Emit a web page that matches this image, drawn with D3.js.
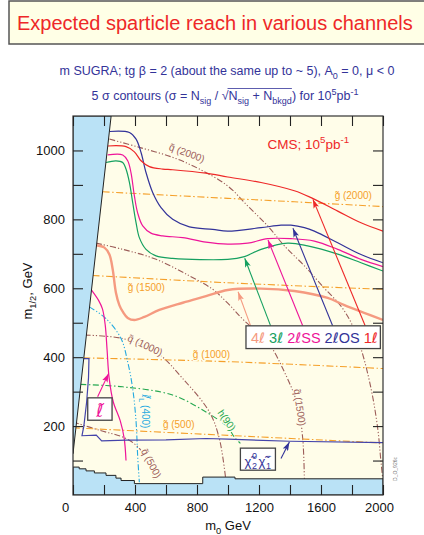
<!DOCTYPE html>
<html>
<head>
<meta charset="utf-8">
<script src="https://cdn.jsdelivr.net/npm/d3@7"></script>
<style>
  body { margin: 0; background: #fff; }
  svg text { font-family: "Liberation Sans", Arial, sans-serif; }
  .ell { font-family: "DejaVu Sans", sans-serif; font-style: italic; }
</style>
</head>
<body>
<script>
((() => {

// ---- data: points are [m0, m1/2] in GeV ----

const xTickLabels = [0, 400, 800, 1200, 1600, 2000];
const yTickLabels = [200, 400, 600, 800, 1000];

// 5 sigma reach contours
const oneLepton = [[224,1013],[342,1011],[396,996],[439,970],[493,953],[579,946],[643,944],[858,934],[998,923],[1213,907],[1428,883],[1536,863],[1708,824],[1858,790],[2000,766]];
const twoLepOS  = [[235,1055],[364,1052],[407,1033],[439,994],[471,936],[514,878],[568,834],[643,800],[751,778],[901,771],[998,766],[1213,776],[1342,783],[1406,783],[1493,776],[1557,766],[1708,732],[1858,698],[2000,674]];
const twoLepSS  = [[224,987],[321,987],[353,970],[374,936],[396,868],[417,819],[450,781],[503,760],[579,752],[708,747],[858,734],[998,728],[1127,731],[1256,744],[1406,744],[1557,737],[1708,713],[1858,684],[2000,663]];
const threeLep  = [[213,965],[277,970],[321,965],[342,946],[364,907],[385,849],[407,790],[428,747],[471,713],[536,694],[643,687],[998,684],[1106,692],[1213,713],[1385,731],[1514,723],[1708,699],[1858,674],[2000,650]];
const fourLep   = [[148,725],[203,718],[235,698],[256,655],[277,587],[299,551],[321,532],[353,514],[396,508],[461,517],[557,537],[708,558],[858,577],[998,595],[1213,599],[1428,592],[1643,572],[1751,551],[2000,508]];
const sleptonReach  = [[116,597],[165,565],[190,540],[208,493],[220,420],[233,340],[260,270],[305,215],[330,165],[342,100]];
const charginoReach = [[52,396],[103,396],[100,340],[88,270],[70,200],[58,172],[150,174],[185,157],[344,159],[600,160],[858,164],[1000,162],[1400,156],[2000,152]];

// iso-mass lines
const squark2000 = [[235,1033],[428,1009],[643,980],[815,946],[998,897],[1127,839],[1256,781],[1364,723],[1493,665],[1622,600],[1729,548],[1800,495],[1858,425],[1923,309],[1966,193],[1987,96],[2000,40]];
const squark1500 = [[148,731],[321,713],[536,684],[751,636],[901,597],[1000,556],[1100,508],[1256,444],[1364,357],[1450,260],[1482,164],[1493,40]];
const squark1000 = [[76,464],[321,454],[536,415],[708,338],[880,241],[944,164],[987,40]];
const squark500  = [[0,212],[170,188],[342,164],[428,135],[493,86],[525,40]];
const gluino2000 = [[192,880],[998,861],[1428,851],[2000,837]];
const gluino1500 = [[127,637],[998,616],[2000,597]];
const gluino1000 = [[68,398],[1000,387],[2000,367]];
const gluino500  = [[0,195],[1000,173],[2000,151]];
const higgs90    = [[48,321],[321,314],[643,290],[858,241],[998,197],[1041,168],[1080,150]];
const sleptonL400 = [[106,546],[213,512],[310,454],[353,386],[385,309],[407,212],[417,115],[428,37]];

// excluded regions
const theoryExcluded = [[0,120],[246,1100],[0,1100]];
const lepExcluded = [[0,81],[40,81],[40,76],[84,76],[84,70],[138,70],[138,64],[213,64],[213,57],[277,57],[277,49],[310,49],[310,42],[396,42],[396,33],[837,33],[837,52],[1045,52],[1045,47],[2000,47],[2000,0],[0,0]];

// ---- colours ----
const red = '#ee2828', navy = '#333399', magenta = '#ee1599', green = '#15a060',
      salmon = '#f59a80', brown = '#9c5c58', orange = '#f5a02a', cyan = '#25aae0',
      hgreen = '#25a850', cream = '#fffde9', skyblue = '#bae2f6';

let width = 424, height = 535;
let margin = {top: 116, right: 41, bottom: 40, left: 73};

let svg = d3.select('body').append('svg')
  .attr('width', width)
  .attr('height', height);

let xScale = d3.scaleLinear().domain([0, 2000]).range([margin.left, width - margin.right]);
let yScale = d3.scaleLinear().domain([0, 1100]).range([height - margin.bottom, margin.top]);

// text with sub / superscripts; parts are [text, 'sub'|'sup'|null, overline?]
function rich(sel, parts, size) {
  let shift = 0;
  parts.forEach(([t, k, ov]) => {
    let target = k === 'sub' ? size * 0.3 : k === 'sup' ? -size * 0.42 : 0;
    let ts = sel.append('tspan').attr('dy', target - shift).text(t);
    if (k) ts.style('font-size', (size * 0.72) + 'px');
    if (ov) ts.classed('ov', true);
    shift = target;
  });
  return sel;
}

// title box
svg.append('rect')
  .attr('x', 9).attr('y', 1).attr('width', 440).attr('height', 43)
  .attr('fill', '#ffffe6').attr('stroke', '#555').attr('stroke-width', 1.5);
svg.append('text')
  .attr('x', 17).attr('y', 30)
  .attr('fill', red).style('font-size', '20px')
  .text('Expected sparticle reach in various channels');

// subtitle lines
rich(svg.append('text').attr('x', 227).attr('y', 75).attr('text-anchor', 'middle')
    .attr('fill', navy).style('font-size', '12.5px'),
  [['m SUGRA; tg β = 2 (about the same up to ~ 5), A'], ['0', 'sub'], [' = 0, μ < 0']], 12.5);

let sub2 = rich(svg.append('text').attr('x', 225).attr('y', 100).attr('text-anchor', 'middle')
    .attr('fill', navy).style('font-size', '12.5px'),
  [['5 σ contours (σ = N'], ['sig', 'sub'], [' / √'], ['N', null, true], ['sig', 'sub', true],
   [' + N', null, true], ['bkgd', 'sub', true], [')'], [' for 10'], ['5', 'sup'], ['pb'], ['-1', 'sup']], 12.5);

// overline for the square root
let ov = sub2.selectAll('tspan.ov').nodes();
if (ov.length) {
  let x0 = ov[0].getStartPositionOfChar(0).x - 1;
  let last = ov[ov.length - 1];
  let x1 = last.getEndPositionOfChar(last.getNumberOfChars() - 1).x;
  svg.append('line').attr('x1', x0).attr('x2', x1).attr('y1', 88.5).attr('y2', 88.5)
    .attr('stroke', navy).attr('stroke-width', 0.8);
}

// ---- plot area ----
svg.append('clipPath').attr('id', 'plot-clip')
  .append('rect')
    .attr('x', xScale(0)).attr('y', yScale(1100))
    .attr('width', xScale(2000) - xScale(0)).attr('height', yScale(0) - yScale(1100));

let plot = svg.append('g').attr('clip-path', 'url(#plot-clip)');

plot.append('rect')
  .attr('x', xScale(0)).attr('y', yScale(1100))
  .attr('width', xScale(2000) - xScale(0)).attr('height', yScale(0) - yScale(1100))
  .attr('fill', cream);

let smooth = d3.line()
  .x(d => xScale(d[0]))
  .y(d => yScale(d[1]))
  .curve(d3.curveCatmullRom.alpha(0.5));

let straight = d3.line()
  .x(d => xScale(d[0]))
  .y(d => yScale(d[1]));

// iso-mass lines
let isoLines = [
  {data: squark2000, color: brown, dash: '6,2,1.2,2,1.2,2'},
  {data: squark1500, color: brown, dash: '6,2,1.2,2,1.2,2'},
  {data: squark1000, color: brown, dash: '6,2,1.2,2,1.2,2'},
  {data: squark500,  color: brown, dash: '6,2,1.2,2,1.2,2'},
  {data: gluino2000, color: orange, dash: '7,2.5,1.5,2.5'},
  {data: gluino1500, color: orange, dash: '7,2.5,1.5,2.5'},
  {data: gluino1000, color: orange, dash: '7,2.5,1.5,2.5'},
  {data: gluino500,  color: orange, dash: '7,2.5,1.5,2.5'},
  {data: higgs90,    color: hgreen, dash: '6,2.5,1.5,2.5'},
  {data: sleptonL400, color: cyan, dash: '6,2,1.2,2,1.2,2'}
];

plot.selectAll('path.iso')
  .data(isoLines)
  .enter()
  .append('path')
    .attr('class', 'iso')
    .attr('d', d => smooth(d.data))
    .attr('fill', 'none')
    .attr('stroke', d => d.color)
    .attr('stroke-width', 1.1)
    .attr('stroke-dasharray', d => d.dash);

// reach contours
let contours = [
  {data: fourLep, color: salmon, w: 2.4},
  {data: threeLep, color: green, w: 1.2},
  {data: twoLepSS, color: magenta, w: 1.2},
  {data: twoLepOS, color: navy, w: 1.2},
  {data: oneLepton, color: red, w: 1.2},
  {data: sleptonReach, color: magenta, w: 1.2}
];

plot.selectAll('path.reach')
  .data(contours)
  .enter()
  .append('path')
    .attr('class', 'reach')
    .attr('d', d => smooth(d.data))
    .attr('fill', 'none')
    .attr('stroke', d => d.color)
    .attr('stroke-width', d => d.w);

plot.append('path')
  .attr('d', straight(charginoReach))
  .attr('fill', 'none')
  .attr('stroke', '#4444aa')
  .attr('stroke-width', 1.2);

// excluded regions
[theoryExcluded, lepExcluded].forEach(region => {
  plot.append('path')
    .attr('d', straight(region) + 'Z')
    .attr('fill', skyblue)
    .attr('stroke', '#222')
    .attr('stroke-width', 1);
});

// ---- curve labels ----
let halo = sel => sel
  .attr('stroke', cream).attr('stroke-width', 3)
  .attr('paint-order', 'stroke').attr('stroke-linejoin', 'round');

let rotLabels = [
  {t: 'q\u0303 (2000)', at: [735, 993], a: 20, c: brown},
  {t: 'q\u0303 (1000)', at: [466, 435], a: 25, c: brown},
  {t: 'q\u0303 (500)',  at: [505, 92],  a: 62, c: brown},
  {t: 'q\u0303 (1500)', at: [1463, 254], a: 82, c: brown},
  {t: 'h(90)',          at: [992, 217], a: 55, c: hgreen}
];
rotLabels.forEach(l => {
  svg.append('text')
    .attr('transform', `translate(${xScale(l.at[0])},${yScale(l.at[1])}) rotate(${l.a})`)
    .attr('text-anchor', 'middle').attr('dy', '0.35em')
    .attr('fill', l.c).style('font-size', '10px')
    .call(halo)
    .text(l.t);
});

let gLabels = [
  {t: 'g\u0303 (2000)', at: [1688, 860]},
  {t: 'g\u0303 (1500)', at: [353, 592]},
  {t: 'g\u0303 (1000)', at: [773, 399]},
  {t: 'g\u0303 (500)',  at: [580, 194]}
];
gLabels.forEach(l => {
  svg.append('text')
    .attr('x', xScale(l.at[0])).attr('y', yScale(l.at[1]))
    .attr('fill', orange).style('font-size', '10px')
    .call(halo)
    .text(l.t);
});

// slepton L (400) label
let sl = svg.append('text')
  .attr('transform', `translate(${xScale(466)},${yScale(243)}) rotate(90)`)
  .attr('text-anchor', 'middle').attr('dy', '0.35em')
  .attr('fill', cyan).style('font-size', '10px')
  .call(halo);
sl.append('tspan').attr('class', 'ell').text('\u2113\u0303');
rich(sl, [['L', 'sub'], [' (400)']], 10);

// CMS label
rich(svg.append('text').attr('x', xScale(1255)).attr('y', yScale(1004))
    .attr('fill', red).style('font-size', '13.5px'),
  [['CMS; 10'], ['5', 'sup'], ['pb'], ['-1', 'sup']], 13.5);

// ---- arrows ----
let defs = svg.append('defs');
function marker(id, color) {
  defs.append('marker')
    .attr('id', id).attr('viewBox', '0 0 9 6')
    .attr('refX', 9).attr('refY', 3)
    .attr('markerWidth', 9).attr('markerHeight', 6)
    .attr('markerUnits', 'userSpaceOnUse')
    .attr('orient', 'auto')
    .append('path').attr('d', 'M0,0 L9,3 L0,6 L2,3 Z').attr('fill', color);
}

let arrows = [
  {from: [1146, 491], to: [1065, 590], c: salmon},
  {from: [1275, 491], to: [1108, 687], c: green},
  {from: [1482, 491], to: [1258, 740], c: magenta},
  {from: [1675, 491], to: [1419, 774], c: navy},
  {from: [1885, 491], to: [1548, 858], c: red},
  {from: [159, 285],  to: [230, 353],  c: magenta},
  {from: [1342, 106], to: [1396, 154], c: navy}
];
arrows.forEach((a, i) => {
  marker('arr' + i, a.c);
  svg.append('line')
    .attr('x1', xScale(a.from[0])).attr('y1', yScale(a.from[1]))
    .attr('x2', xScale(a.to[0])).attr('y2', yScale(a.to[1]))
    .attr('stroke', a.c).attr('stroke-width', 1.1)
    .attr('marker-end', `url(#arr${i})`);
});

// ---- boxes ----
function box(x0, x1, y0, y1) {
  return svg.append('rect')
    .attr('x', xScale(x0)).attr('y', yScale(y1))
    .attr('width', xScale(x1) - xScale(x0)).attr('height', yScale(y0) - yScale(y1))
    .attr('fill', '#fff').attr('stroke', '#444').attr('stroke-width', 1.3);
}

// legend
box(1116, 1983, 425, 491);
let legendItems = [['4', salmon, ''], ['3', green, ''], ['2', magenta, 'SS'], ['2', navy, 'OS'], ['1', red, '']];
let leg = svg.append('text')
  .attr('x', xScale(1116) + 5).attr('y', yScale(442))
  .style('font-size', '14.5px');
legendItems.forEach(([n, c, s], i) => {
  leg.append('tspan').attr('fill', c).text((i ? ' ' : '') + n);
  leg.append('tspan').attr('class', 'ell').attr('fill', c).style('font-style', 'normal').text('\u2113');
  if (s) leg.append('tspan').attr('fill', c).text(s);
});

// slepton box
box(95, 252, 217, 282);
svg.append('text')
  .attr('class', 'ell')
  .attr('x', xScale(173)).attr('y', yScale(226))
  .attr('text-anchor', 'middle')
  .attr('fill', magenta).style('font-size', '17px')
  .text('\u2113\u0303');

// chargino / neutralino box
box(1080, 1306, 72, 136);
let cx = xScale(1080), cy = yScale(85);
let chi = [['\u03c7\u0303', 4, 0, 13], ['0', 11.5, -7, 9], ['2', 11.5, 3, 9],
           ['\u03c7\u0303', 18, 0, 13], ['\u2212', 25.5, -7, 9], ['1', 25.5, 3, 9]];
chi.forEach(([t, dx, dy, s]) => {
  svg.append('text')
    .attr('x', cx + dx).attr('y', cy + dy)
    .attr('fill', navy).style('font-size', s + 'px')
    .text(t);
});

// ---- frame and axes ----
svg.append('rect')
  .attr('x', xScale(0)).attr('y', yScale(1100))
  .attr('width', xScale(2000) - xScale(0)).attr('height', yScale(0) - yScale(1100))
  .attr('fill', 'none').attr('stroke', '#333').attr('stroke-width', 1.2);

let xMinor = d3.range(0, 2001, 200);
let yMinor = d3.range(100, 1001, 100);

let xAxis = svg.append('g')
  .attr('transform', `translate(0,${yScale(0)})`)
  .call(d3.axisBottom(xScale).tickValues(xMinor).tickSize(-10).tickPadding(8)
    .tickFormat(d => xTickLabels.includes(d) ? d : ''));

xAxis.selectAll('text')
  .attr('dx', d => d === 0 ? -8 : d === 2000 ? -4 : 0);

let yAxis = svg.append('g')
  .attr('transform', `translate(${xScale(0)},0)`)
  .call(d3.axisLeft(yScale).tickValues(yMinor).tickSize(-10).tickPadding(8)
    .tickFormat(d => yTickLabels.includes(d) ? d : ''));

svg.append('g')
  .attr('transform', `translate(0,${yScale(1100)})`)
  .call(d3.axisTop(xScale).tickValues(xMinor).tickSize(-10).tickFormat(''));

svg.append('g')
  .attr('transform', `translate(${xScale(2000)},0)`)
  .call(d3.axisRight(yScale).tickValues(yMinor).tickSize(-10).tickFormat(''));

svg.selectAll('.domain').remove();
svg.selectAll('.tick line').attr('stroke', '#222').attr('stroke-width', 1.1);
svg.selectAll('.tick text')
  .style('font-family', '"Liberation Sans", Arial, sans-serif')
  .style('font-size', '13px').attr('fill', '#111');

// axis titles
rich(svg.append('text').attr('x', 228).attr('y', 530).attr('text-anchor', 'middle')
    .attr('fill', '#111').style('font-size', '13px'),
  [['m'], ['0', 'sub'], [' GeV']], 13);

rich(svg.append('text').attr('transform', 'translate(32,291) rotate(-90)').attr('text-anchor', 'middle')
    .attr('fill', '#111').style('font-size', '13px'),
  [['m'], ['1/2', 'sub'], [', GeV']], 13);

// plot id in the margin
svg.append('text')
  .attr('transform', 'translate(397,469) rotate(-90)')
  .attr('text-anchor', 'middle')
  .attr('fill', '#777').style('font-size', '5px')
  .text('D_O_926c');

})());
</script>
</body>
</html>
